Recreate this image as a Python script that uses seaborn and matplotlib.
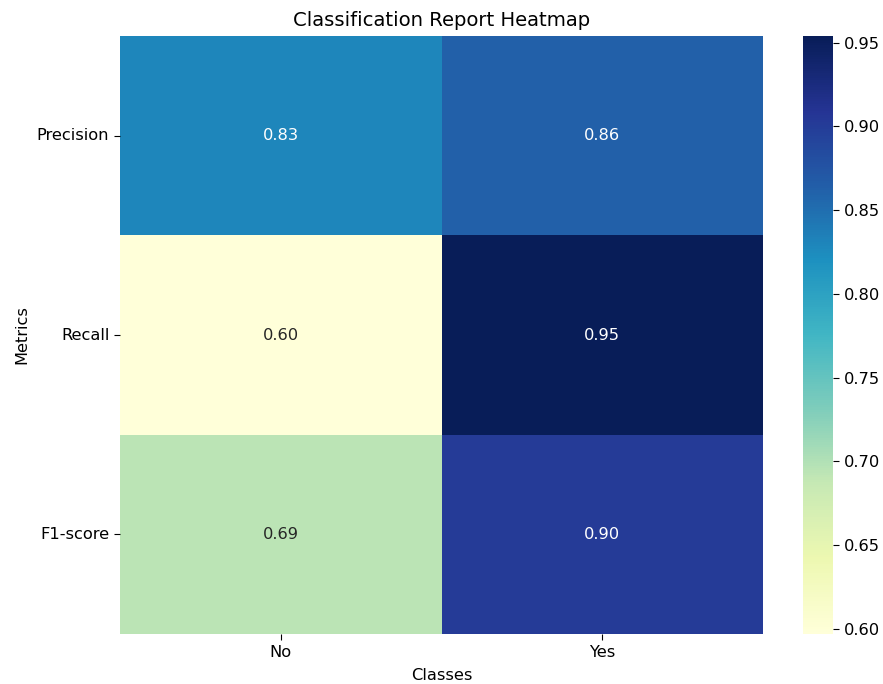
import numpy as np
import pandas as pd
import matplotlib
matplotlib.use("Agg")
import matplotlib.pyplot as plt
import seaborn as sns

# Classification report metrics per class
classes = ["No", "Yes"]
metrics = ["Precision", "Recall", "F1-score"]
precision = [0.829, 0.862]
recall = [0.597, 0.954]
f1_score = [0.694, 0.902]

report = pd.DataFrame([precision, recall, f1_score], index=metrics, columns=classes)

FS = 11.7
plt.rcParams.update({
    "font.size": FS,
    "xtick.labelsize": FS,
    "ytick.labelsize": FS,
    "axes.labelsize": FS,
    "axes.titlesize": 14.1,
    "xtick.major.size": 4.2,
    "ytick.major.size": 4.2,
})

W, H = 883, 684
fig = plt.figure(figsize=(W / 100, H / 100), dpi=100)
bottom = (H - 634) / H
height = (634 - 36) / H
ax = fig.add_axes([120 / W, bottom, (763 - 120) / W, height])
cax = fig.add_axes([803 / W, bottom, 30 / W, height])

sns.heatmap(report, annot=True, fmt=".2f", cmap="YlGnBu", ax=ax, cbar_ax=cax,
            annot_kws={"size": FS})

ax.set_title("Classification Report Heatmap", pad=7)
ax.set_xlabel("Classes", labelpad=6)
ax.set_ylabel("Metrics", labelpad=5)
ax.tick_params(axis="y", rotation=0)
cax.tick_params(labelsize=FS)

fig.savefig("out.png", dpi=100)
